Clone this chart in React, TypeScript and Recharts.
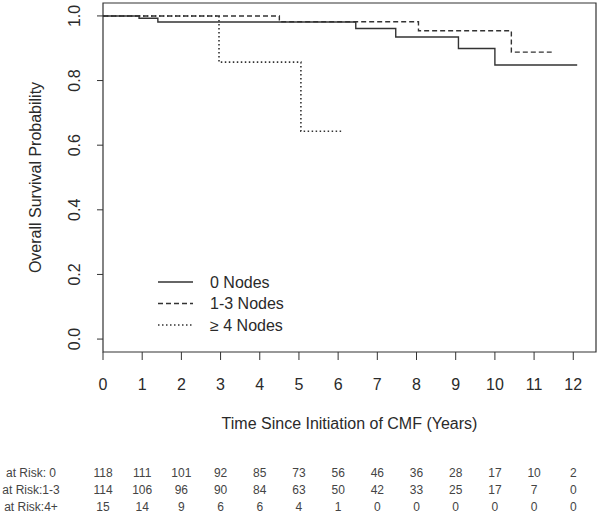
import React from "react";
import { LineChart, Line, XAxis, YAxis, ReferenceArea, Legend } from "recharts";

// 0 Nodes (solid)
const timesNodes0 = [0, 0.92, 1.4, 6.45, 7.47, 9.07, 10.0, 12.1];
const survNodes0 = [1, 0.993, 0.981, 0.961, 0.935, 0.899, 0.848, 0.848];
// 1-3 Nodes (dashed)
const timesNodes13 = [0, 4.5, 8.05, 10.42, 11.45];
const survNodes13 = [1, 0.982, 0.954, 0.888, 0.888];
// >=4 Nodes (dotted)
const timesNodes4 = [0, 2.96, 5.05, 6.1];
const survNodes4 = [1, 0.857, 0.643, 0.643];

const xTicks = [0, 1, 2, 3, 4, 5, 6, 7, 8, 9, 10, 11, 12];
const yTicks = [0, 0.2, 0.4, 0.6, 0.8, 1.0];

const riskLabels = ["at Risk: 0", "at Risk:1-3", "at Risk:4+"];
const riskNodes0 = [118, 111, 101, 92, 85, 73, 56, 46, 36, 28, 17, 10, 2];
const riskNodes13 = [114, 106, 96, 90, 84, 63, 50, 42, 33, 25, 17, 7, 0];
const riskNodes4 = [15, 14, 9, 6, 6, 4, 1, 0, 0, 0, 0, 0, 0];
const riskRows = [riskNodes0, riskNodes13, riskNodes4];

const legendNames = ["0 Nodes", "1-3 Nodes", "\u2265 4 Nodes"];
const xTitle = "Time Since Initiation of CMF (Years)";
const yTitle = "Overall Survival Probability";

const toData = (ts: number[], ss: number[]) => ts.map((t, i) => ({ t, s: ss[i] }));
const data0 = toData(timesNodes0, survNodes0);
const data13 = toData(timesNodes13, survNodes13);
const data4 = toData(timesNodes4, survNodes4);

const FONT = "'Liberation Sans', Arial, sans-serif";
const INK = "#2a2a2a";
const LINE = "#333";

const dashes = ["", "5 3", "1.5 2.5"];

const XTick = (props: any) => {
  const { x, y, payload, index } = props;
  const rowY = [477, 494, 511];
  return (
    <g fontFamily={FONT}>
      <text x={x} y={y + 29.5} textAnchor="middle" fontSize={16} fill={INK}>
        {payload.value}
      </text>
      {riskRows.map((row, r) => (
        <text key={r} x={x} y={rowY[r]} textAnchor="middle" fontSize={12} fill="#444">
          {row[index]}
        </text>
      ))}
      {index === 0 && (
        <>
          {riskLabels.map((l, r) => (
            <text key={"l" + r} x={31} y={rowY[r]} textAnchor="middle" fontSize={12} fill="#444">
              {l}
            </text>
          ))}
          <text x={349.5} y={428.6} textAnchor="middle" fontSize={16} fill={INK}>
            {xTitle}
          </text>
        </>
      )}
    </g>
  );
};

const YTick = (props: any) => {
  const { y, payload, index } = props;
  return (
    <g fontFamily={FONT}>
      <text
        x={75}
        y={y}
        transform={`rotate(-90, 75, ${y})`}
        textAnchor="middle"
        dominantBaseline="central"
        fontSize={16}
        fill={INK}
      >
        {payload.value.toFixed(1)}
      </text>
      {index === 0 && (
        <text
          x={35}
          y={177.5}
          transform="rotate(-90, 35, 177.5)"
          textAnchor="middle"
          dominantBaseline="central"
          fontSize={16}
          fill={INK}
        >
          {yTitle}
        </text>
      )}
    </g>
  );
};

const LegendContent = () => (
  <svg width={200} height={60} style={{ overflow: "visible", display: "block" }}>
    {legendNames.map((n, i) => (
      <g key={n}>
        <line
          x1={0}
          x2={35}
          y1={4 + i * 21.5}
          y2={4 + i * 21.5}
          stroke={LINE}
          strokeWidth={1.4}
          strokeDasharray={dashes[i] || undefined}
        />
        <text x={52} y={4 + i * 21.5} dominantBaseline="central" fontSize={16} fontFamily={FONT} fill={INK}>
          {n}
        </text>
      </g>
    ))}
  </svg>
);

export default function App() {
  return (
    <div style={{ position: "absolute", left: 0, top: 0, width: 601, height: 517, background: "#fff" }}>
      <LineChart width={601} height={517} margin={{ top: 3, right: 5, bottom: 0, left: 0 }}>
        <XAxis
          type="number"
          dataKey="t"
          domain={[0, 12.58]}
          allowDataOverflow
          ticks={xTicks}
          interval={0}
          height={165}
          tickSize={8}
          tickMargin={0}
          axisLine={false}
          tickLine={{ stroke: LINE }}
          tick={<XTick />}
        />
        <YAxis
          type="number"
          dataKey="s"
          domain={[-0.04, 1.04]}
          allowDataOverflow
          ticks={yTicks}
          interval={0}
          width={103}
          tickSize={6}
          axisLine={false}
          tickLine={{ stroke: LINE }}
          tick={<YTick />}
        />
        <ReferenceArea
          x1={0}
          x2={12.58}
          y1={-0.04}
          y2={1.04}
          fill="none"
          stroke={LINE}
          strokeWidth={1.2}
          ifOverflow="visible"
        />
        <Line data={data0} dataKey="s" type="stepAfter" stroke={LINE} strokeWidth={1.4} dot={false} isAnimationActive={false} />
        <Line data={data13} dataKey="s" type="stepAfter" stroke={LINE} strokeWidth={1.4} strokeDasharray="5 3" dot={false} isAnimationActive={false} />
        <Line data={data4} dataKey="s" type="stepAfter" stroke={LINE} strokeWidth={1.6} strokeDasharray="1.5 2.5" dot={false} isAnimationActive={false} />
        <Legend
          layout="vertical"
          align="center"
          verticalAlign="middle"
          content={<LegendContent />}
          wrapperStyle={{ position: "absolute", left: 158, top: 278, width: 200, height: 60, margin: 0 }}
        />
      </LineChart>
    </div>
  );
}
